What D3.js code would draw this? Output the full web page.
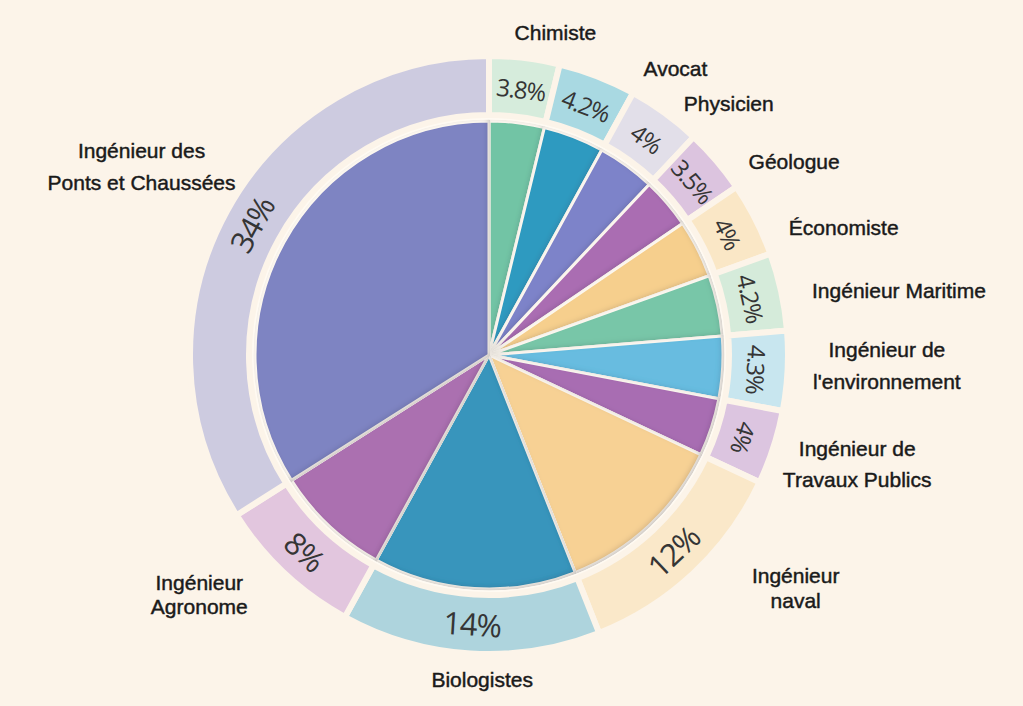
<!DOCTYPE html>
<html>
<head>
<meta charset="utf-8">
<script src="https://cdn.jsdelivr.net/npm/d3@7"></script>
<style>
  html, body { margin: 0; padding: 0; background: #fcf4e9; }
  svg { display: block; }
</style>
</head>
<body>
<div id="chart"></div>
<script>
// data, clockwise from 12 o'clock
const categories = [
  'Chimiste', 'Avocat', 'Physicien', 'Géologue', 'Économiste',
  'Ingénieur Maritime', "Ingénieur de\nl'environnement", 'Ingénieur de\nTravaux Publics',
  'Ingénieur\nnaval', 'Biologistes', 'Ingénieur\nAgronome', 'Ingénieur des\nPonts et Chaussées'
];
const values = [3.8, 4.2, 4, 3.5, 4, 4.2, 4.3, 4, 12, 14, 8, 34];
const valueLabels = ['3.8%', '4.2%', '4%', '3.5%', '4%', '4.2%', '4.3%', '4%', '12%', '14%', '8%', '34%'];
const innerColors = ['#72c4a5', '#2f9ac0', '#7d83c9', '#aa6db2', '#f6cf8d', '#78c6a8',
  '#67bce0', '#a86db2', '#f7d194', '#3795bc', '#ab70b0', '#7e84c2'];
const outerColors = ['#d6ecdc', '#a9d9e2', '#e2dfe9', '#dcc4df', '#fae7c6', '#d5ebda',
  '#c8e6ef', '#dcc5e0', '#fae8c9', '#aed4dd', '#e2c6de', '#cdcbe0'];

// label placement: angle shift from slice middle (deg) and distance from centre
const labelShift = [4.8, 11.8, 7.7, 8.2, 7.2, 3.3, -1.5, -1.5, -9.6, -2.4, 7.2, -0.4];
const labelRadius = [329, 342, 347, 361, 377, 415, 398, 384, 385, 325, 376, 395];
const lineGap = [0, 0, 0, 0, 0, 0, 32, 31, 25, 0, 24, 32];

const width = 1023, height = 706;
const cx = 489, cy = 355;
const bg = '#fcf4e9';

const svg = d3.select('#chart').append('svg')
  .attr('width', width).attr('height', height);

svg.append('rect').attr('width', width).attr('height', height).attr('fill', bg);

// inner shadow for the pie slices
const defs = svg.append('defs');
const f = defs.append('filter').attr('id', 'inset')
  .attr('x', '-10%').attr('y', '-10%').attr('width', '120%').attr('height', '120%');
f.append('feGaussianBlur').attr('in', 'SourceAlpha').attr('stdDeviation', 3).attr('result', 'blur');
f.append('feOffset').attr('dx', -2).attr('dy', -2).attr('result', 'off');
f.append('feComposite').attr('in', 'SourceAlpha').attr('in2', 'off').attr('operator', 'out').attr('result', 'edge');
f.append('feFlood').attr('flood-color', '#2a2140').attr('flood-opacity', 0.45);
f.append('feComposite').attr('in2', 'edge').attr('operator', 'in').attr('result', 'shadow');
f.append('feComposite').attr('in', 'shadow').attr('in2', 'SourceGraphic').attr('operator', 'atop');

const g = svg.append('g').attr('transform', `translate(${cx},${cy})`);

const pie = d3.pie().sort(null).value(d => d);
const arcs = pie(values);

const innerArc = d3.arc().innerRadius(0).outerRadius(234);
const ringArc = d3.arc().innerRadius(240).outerRadius(299);

g.append('circle').attr('r', 239).attr('fill', '#fffaf2');

g.selectAll('path.ring')
  .data(arcs)
  .enter().append('path')
  .attr('class', 'ring')
  .attr('d', ringArc)
  .attr('fill', (d, i) => outerColors[i])
  .attr('stroke', bg)
  .attr('stroke-width', 6);

g.selectAll('path.slice')
  .data(arcs)
  .enter().append('path')
  .attr('class', 'slice')
  .attr('d', innerArc)
  .attr('fill', (d, i) => innerColors[i])
  .attr('filter', 'url(#inset)')
  .attr('stroke', '#fffaf2')
  .attr('stroke-width', 3)
  .attr('stroke-linejoin', 'round');

// percentages in the ring, rotated along the circle
const deg = a => a * 180 / Math.PI;
g.selectAll('text.pct')
  .data(arcs)
  .enter().append('text')
  .attr('class', 'pct')
  .attr('transform', d => {
    const a = (d.startAngle + d.endAngle) / 2;
    const mid = deg(a);
    let rot = mid;
    if (mid > 130 && mid <= 270) rot = mid - 180;
    else if (mid > 270) rot = mid - 360;
    const r = d.data >= 8 ? 270 : 267;
    return `translate(${r * Math.sin(a)},${-r * Math.cos(a)}) rotate(${rot})`;
  })
  .attr('text-anchor', 'middle')
  .attr('dy', '0.36em')
  .style('font-family', '"Open Sans", sans-serif')
  .style('font-size', d => d.data >= 8 ? '31px' : '24px')
  .attr('fill', '#353535')
  .attr('letter-spacing', -1.2)
  .text((d, i) => valueLabels[i]);

// category labels
const labels = g.selectAll('text.cat')
  .data(arcs)
  .enter().append('text')
  .attr('class', 'cat')
  .attr('text-anchor', 'middle')
  .style('font-family', '"Liberation Sans", Arial, sans-serif')
  .style('font-size', '21px')
  .attr('fill', '#1a1a1a')
  .attr('stroke', '#1a1a1a')
  .attr('stroke-width', 0.45)
  .attr('transform', (d, i) => {
    const a = (d.startAngle + d.endAngle) / 2 + labelShift[i] * Math.PI / 180;
    return `translate(${labelRadius[i] * Math.sin(a)},${-labelRadius[i] * Math.cos(a)})`;
  });

labels.each(function (d, i) {
  const lines = categories[i].split('\n');
  const gap = lineGap[i] || 30;
  const top = -(lines.length - 1) * gap / 2;
  d3.select(this).selectAll('tspan')
    .data(lines)
    .enter().append('tspan')
    .attr('x', 0)
    .attr('y', (l, j) => top + j * gap)
    .attr('dy', '0.35em')
    .text(l => l);
});
</script>
</body>
</html>
